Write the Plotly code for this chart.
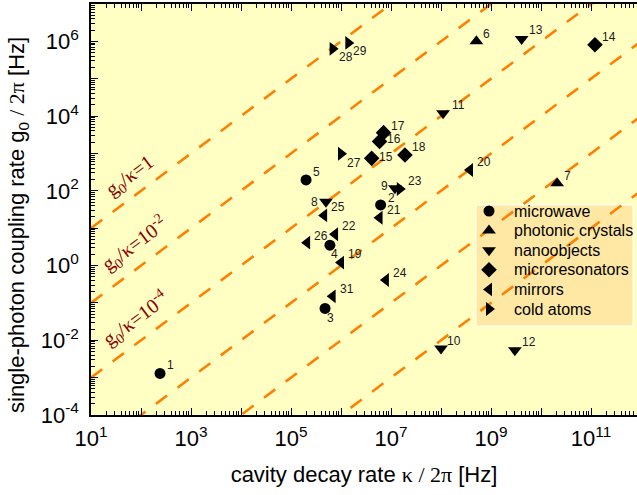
import math
import plotly.graph_objects as go

# ---- data ----
categories = ["microwave", "photonic crystals", "nanoobjects", "microresonators", "mirrors", "cold atoms"]

microwave_ids = ["1", "2", "3", "4", "5"]
microwave_kappa = [2.4e2, 6.2e6, 4.8e5, 6.0e5, 2.0e5]
microwave_g0 = [1.3e-3, 42, 0.071, 3.5, 195]

photonic_ids = ["6", "7"]
photonic_kappa = [5.1e8, 2.1e10]
photonic_g0 = [1.0e6, 160]

nano_ids = ["8", "9", "10", "11", "12", "13"]
nano_kappa = [5.0e5, 1.2e7, 1.0e8, 1.1e8, 3.0e9, 4.1e9]
nano_g0 = [51, 117, 6.0e-3, 1.2e4, 5.4e-3, 1.15e6]

microres_ids = ["14", "15", "16", "17", "18"]
microres_kappa = [1.2e11, 4.1e6, 5.9e6, 7.1e6, 1.9e7]
microres_g0 = [8.1e5, 740, 2100, 3600, 910]

mirror_ids = ["19", "20", "21", "22", "24", "25", "26", "31"]
mirror_kappa = [1.0e6, 3.8e8, 5.9e6, 7.6e5, 7.9e6, 4.6e5, 2.1e5, 6.8e5]
mirror_g0 = [1.2, 360, 19, 6.9, 0.41, 22, 4.1, 0.15]

atoms_ids = ["23", "27", "28", "29"]
atoms_kappa = [1.5e7, 1.0e6, 6.8e5, 1.4e6]
atoms_g0 = [112, 980, 6.3e5, 9.1e5]

ratios = [1, 1e-2, 1e-4, 1e-6, 1e-8, 1e-10]
ratio_labels = ["g<sub>0</sub>/κ=1", "g<sub>0</sub>/κ=10<sup>-2</sup>", "g<sub>0</sub>/κ=10<sup>-4</sup>"]
x_tick_exps = list(range(1, 13))
y_tick_exps = list(range(-4, 8))

# ---- styling / label placement (pixels) ----
label_offsets = {
    "1": (10, -8), "2": (11, -7), "3": (5, 10), "4": (5, 9), "5": (10, -8),
    "6": (10, -7), "7": (10, -7), "8": (-11, 0), "9": (-10, -2), "10": (13, -8),
    "11": (15, -8), "12": (14, -8), "13": (14, -9), "14": (14, -8), "15": (14, -1),
    "16": (14, -2), "17": (14, -7), "18": (14, -8), "19": (14, -9), "20": (14, -8),
    "21": (14, -8), "22": (14, -8), "23": (15, -8), "24": (14, -7), "25": (14, -8),
    "26": (14, -7), "27": (13, 9), "28": (13, 8), "29": (12, 8), "31": (14, -7),
}
symbols = ["circle", "triangle-up", "triangle-down", "diamond", "triangle-left", "triangle-right"]
sizes = [11, 12, 12, 12, 12, 12]

# plot area in page pixels
PX_L, PX_R, PX_T, PX_B = 91, 637, 4, 415
# legend box layout in page pixels
LEG_BOX = (476, 205, 633, 326)
LEG_MARK_X, LEG_TEXT_X, LEG_ROW0, LEG_ROW_STEP = 489, 512, 211, 19.6
YTITLE_X, YTITLE_Y = 18, 225

groups = [
    (microwave_ids, microwave_kappa, microwave_g0),
    (photonic_ids, photonic_kappa, photonic_g0),
    (nano_ids, nano_kappa, nano_g0),
    (microres_ids, microres_kappa, microres_g0),
    (mirror_ids, mirror_kappa, mirror_g0),
    (atoms_ids, atoms_kappa, atoms_g0),
]

fig = go.Figure()

line_x = [10 ** 1, 10 ** 12.5]
for r in ratios:
    fig.add_trace(go.Scatter(
        x=line_x, y=[r * v for v in line_x], mode="lines",
        line=dict(color="#FF8000", width=2.6, dash="14px,13px"),
        showlegend=False, hoverinfo="skip",
    ))

annotations = []
for name, sym, sz, (ids, kx, gy) in zip(categories, symbols, sizes, groups):
    fig.add_trace(go.Scatter(
        x=kx, y=gy, mode="markers", name=name, showlegend=False,
        marker=dict(symbol=sym, size=sz, color="black", line=dict(width=0)),
    ))
    for i, k, g in zip(ids, kx, gy):
        dx, dy = label_offsets[i]
        annotations.append(dict(
            x=math.log10(k), y=math.log10(g), xref="x", yref="y", text=i, showarrow=False,
            xshift=dx, yshift=-dy, xanchor="center", yanchor="middle",
            font=dict(family="Liberation Sans, Arial", size=12, color="#1a1a1a"),
        ))

# ratio line labels (placed on the line, shifted upward)
label_pos = [(1.78, 23), (1.88, 26), (1.90, 25)]
for r, txt, (lk, ys) in zip(ratios[:3], ratio_labels, label_pos):
    annotations.append(dict(
        x=lk, y=lk + math.log10(r), xref="x", yref="y", text=txt, showarrow=False,
        textangle=-36.7, yshift=ys, xanchor="center", yanchor="middle",
        font=dict(family="Liberation Serif, Times New Roman", size=20, color="#8B0000"),
    ))

# custom legend (overlay pixel axes x2/y2)
rows = [LEG_ROW0 + LEG_ROW_STEP * j for j in range(len(categories))]
for name, sym, sz, yy in zip(categories, symbols, sizes, rows):
    fig.add_trace(go.Scatter(
        x=[LEG_MARK_X], y=[yy], xaxis="x2", yaxis="y2", mode="markers",
        marker=dict(symbol=sym, size=sz, color="black", line=dict(width=0)),
        showlegend=False, hoverinfo="skip",
    ))
    annotations.append(dict(
        x=LEG_TEXT_X, y=yy, xref="x2", yref="y2", text=name, showarrow=False,
        xanchor="left", yanchor="middle",
        font=dict(family="Liberation Sans, Arial", size=16, color="black"),
    ))

# y-axis title as rotated annotation (paper coords)
annotations.append(dict(
    x=(YTITLE_X - PX_L) / (PX_R - PX_L), y=(PX_B - YTITLE_Y) / (PX_B - PX_T),
    xref="paper", yref="paper", showarrow=False, textangle=-90,
    xanchor="center", yanchor="middle",
    text='single-photon coupling rate g<sub>0</sub> <span style="font-family:Liberation Serif">/ 2π</span> [Hz]',
    font=dict(family="Liberation Sans, Arial", size=22, color="black"),
))

x_ticktext = [f"10<sup>{e}</sup>" if e % 2 == 1 else "" for e in x_tick_exps]
y_ticktext = [f"10<sup>{e}</sup>" if e % 2 == 0 else "" for e in y_tick_exps]
x_minor = [m * 10 ** e for e in range(1, 13) for m in range(2, 10)]
y_minor = [m * 10.0 ** e for e in range(-4, 7) for m in range(2, 10)]

axis_font = dict(family="Liberation Sans, Arial", size=22, color="black")

fig.update_layout(
    width=637, height=495,
    margin=dict(l=PX_L, r=637 - PX_R, t=PX_T, b=495 - PX_B),
    paper_bgcolor="white", plot_bgcolor="#FFFFC4",
    annotations=annotations,
    shapes=[dict(type="rect", xref="x2", yref="y2",
                 x0=LEG_BOX[0], y0=LEG_BOX[1], x1=LEG_BOX[2], y1=LEG_BOX[3],
                 fillcolor="#FFE8A4", line=dict(color="white", width=1), layer="below")],
    showlegend=False,
    xaxis=dict(
        type="log", range=[1, 1 + (PX_R - PX_L) / 50], automargin=False,
        tickmode="array", tickvals=[10 ** e for e in x_tick_exps], ticktext=x_ticktext,
        ticks="inside", ticklen=7, tickwidth=1.3, tickcolor="black",
        minor=dict(tickmode="array", tickvals=x_minor, ticks="inside", ticklen=4, tickwidth=1, tickcolor="black"),
        showline=True, linecolor="black", linewidth=1.5, mirror="ticks",
        showgrid=False, zeroline=False, tickfont=axis_font, ticklabelstandoff=3,
        title=dict(text='cavity decay rate <span style="font-family:Liberation Serif">κ / 2π</span> [Hz]',
                   font=dict(family="Liberation Sans, Arial", size=22, color="black"), standoff=16),
    ),
    yaxis=dict(
        type="log", range=[-4, 7], automargin=False,
        tickmode="array", tickvals=[10.0 ** e for e in y_tick_exps], ticktext=y_ticktext,
        ticks="inside", ticklen=7, tickwidth=1.3, tickcolor="black",
        minor=dict(tickmode="array", tickvals=y_minor, ticks="inside", ticklen=4, tickwidth=1, tickcolor="black"),
        showline=True, linecolor="black", linewidth=1.5,
        showgrid=False, zeroline=False, tickfont=axis_font, ticklabelstandoff=6,
    ),
    xaxis2=dict(overlaying="x", range=[PX_L, PX_R], visible=False, fixedrange=True),
    yaxis2=dict(overlaying="y", range=[PX_B, PX_T], visible=False, fixedrange=True),
)

fig.write_html("out.html", config={"displayModeBar": False},
               post_script="document.body.style.margin='0';document.body.style.padding='0';")
